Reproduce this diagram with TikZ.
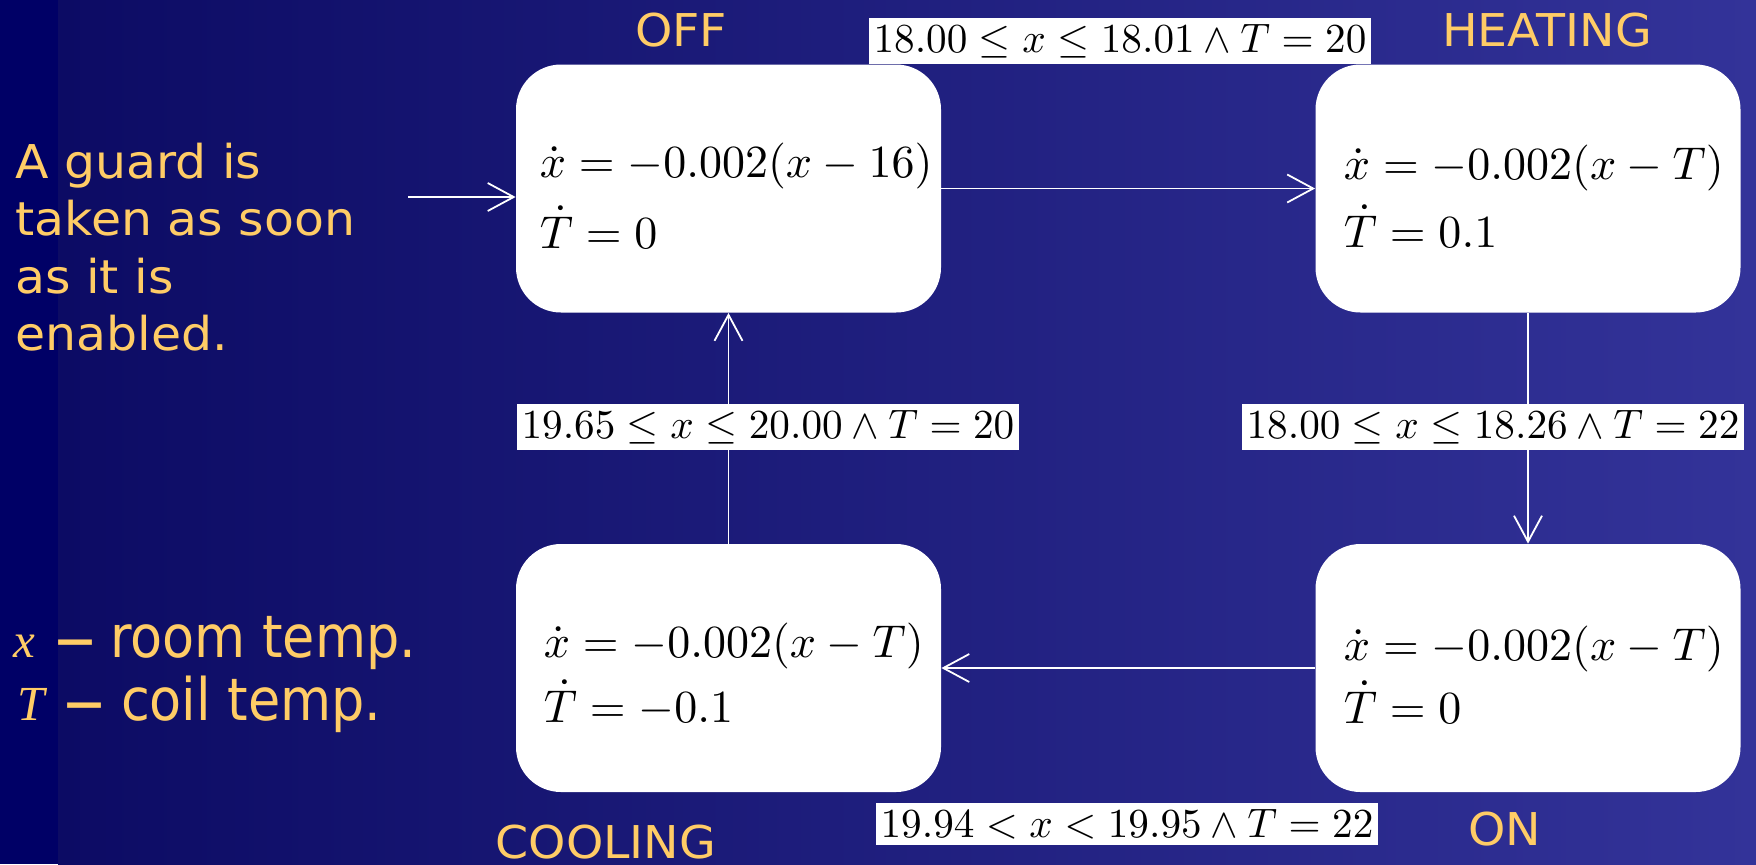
\documentclass[tikz,border=0pt]{standalone}
\usepackage{fontspec}
\usepackage{graphicx}
\usetikzlibrary{arrows.meta}
\newfontfamily\verdf{DejaVu Sans}[FakeStretch=1.05]
\newfontfamily\tahf{DejaVu Sans}[FakeStretch=0.895]
\newfontfamily\timesf{Liberation Serif}
\definecolor{bgl}{RGB}{0,0,102}
\definecolor{bgm}{RGB}{12,11,100}
\definecolor{bgr}{RGB}{51,51,153}
\definecolor{ylw}{RGB}{255,204,102}
\newcommand\legdash{\raisebox{-3pt}{\scalebox{1.6}[1.3]{–}}}
\begin{document}
\begin{tikzpicture}[x=0.5pt,y=-0.5pt,
  state/.style={fill=white, rounded corners=22.5pt, minimum width=212.5pt, minimum height=124pt, inner sep=0pt},
  eqn/.style={anchor=base west, inner sep=0pt, scale=2.3, transform shape},
  guard/.style={fill=white, inner xsep=1.0pt, inner ysep=1.45pt, scale=2.06, transform shape},
  arr/.style={draw=white, line width=0.9pt, -{Straight Barb[length=13pt,width=14pt]}},
  lbl/.style={anchor=base, inner sep=0pt, text=ylw, font=\verdf\fontsize{22.6}{27}\selectfont},
  side/.style={anchor=base west, inner sep=0pt, text=ylw, font=\verdf\fontsize{23.3}{28}\selectfont},
  legend/.style={anchor=base west, inner sep=0pt, text=ylw, font=\tahf\fontsize{29.3}{35}\selectfont},
  ]
\useasboundingbox (0,0) rectangle (1756,864);
% background
\fill[bgl] (0,0) rectangle (58,864);
\shade[left color=bgm, right color=bgr] (58,0) rectangle (1756,864);

% states
\node[state] (off)  at (728.5,188.5) {};
\node[state] (heat) at (1528,188.5) {};
\node[state] (cool) at (728.5,668) {};
\node[state] (on)   at (1528,668) {};

% equations
\node[eqn] (offa)  at (539,177) {$\dot{x} = -0.002(x-16)$};
\node[eqn] (offb)  at (539,248) {$\dot{T} = 0$};
\node[eqn] (heata) at (1343,179) {$\dot{x} = -0.002(x-T)$};
\node[eqn] (heatb) at (1343,247) {$\dot{T} = 0.1$};
\node[eqn] (coola) at (543,657) {$\dot{x} = -0.002(x-T)$};
\node[eqn] (coolb) at (543,722) {$\dot{T} = -0.1$};
\node[eqn] (ona)   at (1343,660) {$\dot{x} = -0.002(x-T)$};
\node[eqn] (onb)   at (1343,723) {$\dot{T} = 0$};

% state names
\node[lbl] (offl)  at (681,46) {OFF};
\node[lbl] (heatl) at (1547,46) {HEATING};
\node[lbl] (cooll) at (606,858) {COOLING};
\node[lbl] (onl)   at (1505,845) {ON};

% connectors
\coordinate (init) at (408,197);
\draw[arr] (init) -- (init -| off.west);
\draw[arr] (off) -- (heat);
\draw[arr] (heat) -- (on);
\draw[arr] (on) -- (cool);
\draw[arr] (cool) -- (off);

% guards
\node[guard] (g1) at (1120,41) {$18.00 \leq x \leq 18.01 \wedge T = 20$};
\node[guard] (g2) at (768,427) {$19.65 \leq x \leq 20.00 \wedge T = 20$};
\node[guard] (g3) at (1493,427) {$18.00 \leq x \leq 18.26 \wedge T = 22$};
\node[guard] (g4) at (1127,824) {$19.94 < x < 19.95 \wedge T = 22$};

% side text
\node[side] (s1) at (15,178) {A guard is};
\node[side] (s2) at (15,235) {taken as soon};
\node[side] (s3) at (15,293) {as it is};
\node[side] (s4) at (15,350) {enabled.};

\node[legend] (l1) at (13,657) {{\timesf\itshape\fontsize{24.5}{30}\selectfont x}\hspace{9.5pt}\legdash\hspace{7pt}room temp.};
\node[legend] (l2) at (17,720) {{\timesf\itshape\fontsize{24.5}{30}\selectfont T}\hspace{9.2pt}\legdash\hspace{8pt}coil temp.};
\end{tikzpicture}
\end{document}
